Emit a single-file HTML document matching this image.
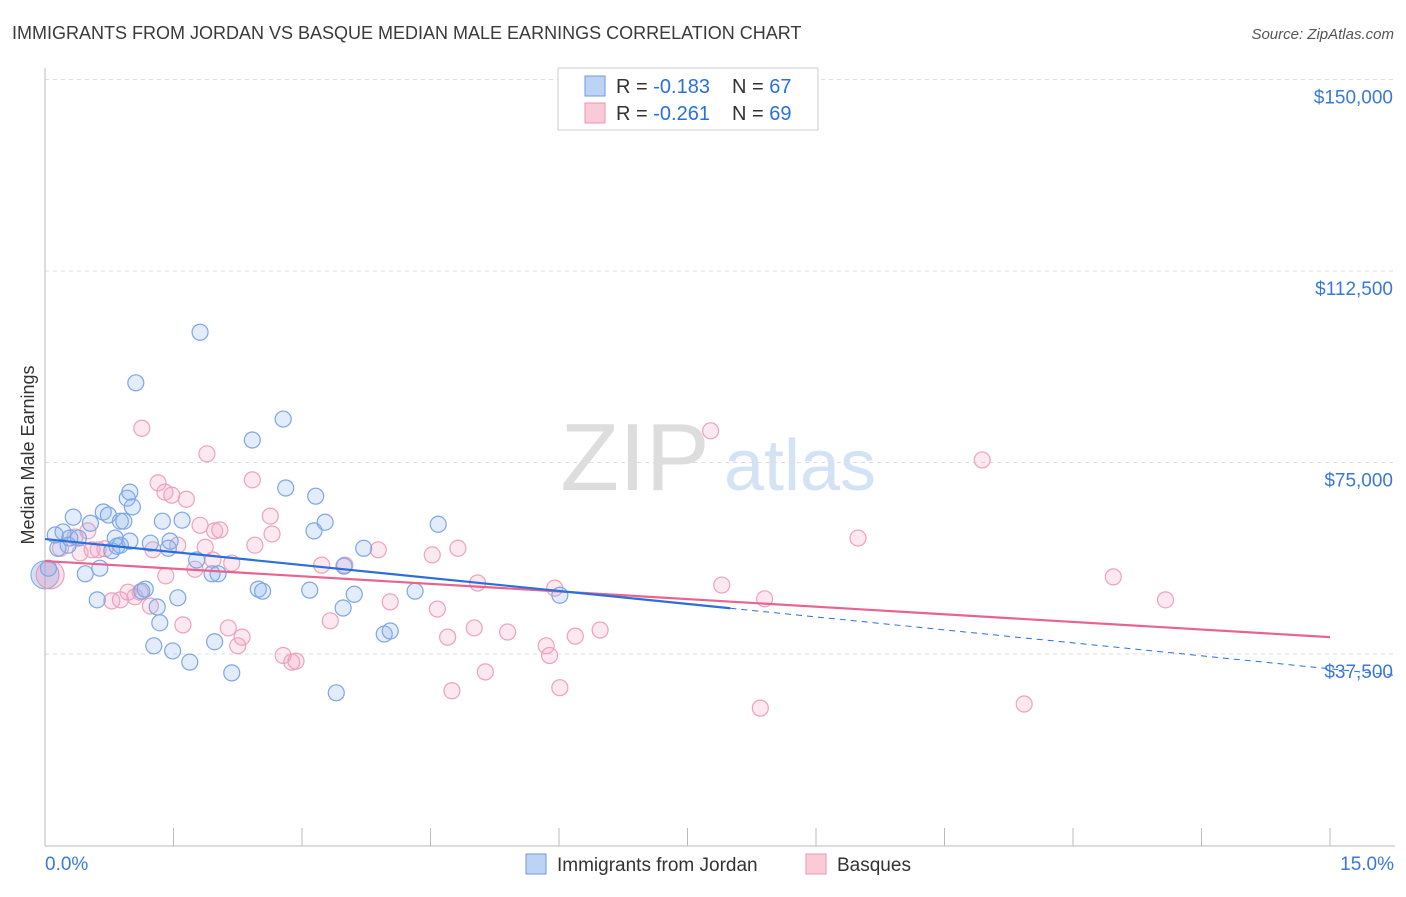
<!DOCTYPE html>
<html><head><meta charset="utf-8"><style>
body{margin:0;background:#fff;font-family:"Liberation Sans",sans-serif}
svg text{font-family:"Liberation Sans",sans-serif}
</style></head><body>
<svg id="chart" width="1406" height="892" viewBox="0 0 1406 892" xmlns="http://www.w3.org/2000/svg">
<text x="12" y="39" font-size="18" fill="#3a3a3a">IMMIGRANTS FROM JORDAN VS BASQUE MEDIAN MALE EARNINGS CORRELATION CHART</text>
<text x="1394" y="39" font-size="15" fill="#555" font-style="italic" text-anchor="end">Source: ZipAtlas.com</text>
<text x="0" y="0" transform="translate(34,455) rotate(-90)" font-size="18" fill="#333" text-anchor="middle">Median Male Earnings</text>
<g><text x="635" y="490" font-size="96" fill="#ddd" font-family="Liberation Serif" text-anchor="middle">ZIP</text><text x="800" y="490" font-size="72" fill="#d4e2f5" text-anchor="middle">atlas</text></g>
<g id="grid"></g><g id="axes"></g><g id="marks"></g>
<g>
<rect x="558" y="68" width="260" height="62" fill="#fff" stroke="#ccc"/>
<rect x="585" y="76" width="20" height="20" fill="#bcd3f5" stroke="#6e9be0"/>
<rect x="585" y="103" width="20" height="20" fill="#f9cbd9" stroke="#ea94b0"/>
<text x="616" y="93" font-size="20" fill="#333">R = <tspan fill="#2a6fdb">-0.183</tspan></text>
<text x="732" y="93" font-size="20" fill="#333">N = <tspan fill="#2a6fdb">67</tspan></text>
<text x="616" y="120" font-size="20" fill="#333">R = <tspan fill="#2a6fdb">-0.261</tspan></text>
<text x="732" y="120" font-size="20" fill="#333">N = <tspan fill="#2a6fdb">69</tspan></text>
</g>
<g>
<rect x="526" y="854" width="20" height="20" fill="#bcd3f5" stroke="#6e9be0"/>
<text x="557" y="871" font-size="19" fill="#333">Immigrants from Jordan</text>
<rect x="806" y="854" width="20" height="20" fill="#f9cbd9" stroke="#ea94b0"/>
<text x="837" y="871" font-size="19" fill="#333">Basques</text>
</g>
</svg>
<script>
const xTicksLabels=["0.0%","15.0%"];
const yTicks=[37500,75000,112500,150000];
const yTickLabels=["$37,500","$75,000","$112,500","$150,000"];
const blueX=[0.12,0.21,0.29,0.33,0.39,0.27,0.15,0.47,0.53,0.61,0.64,0.68,0.74,0.78,0.84,0.88,0.92,0.96,0.99,1.02,0.82,0.88,1.13,1.17,1.23,1.27,1.31,1.34,1.37,1.44,1.46,1.49,1.55,1.60,1.69,1.77,1.81,1.95,1.98,2.02,2.18,2.42,2.49,2.54,2.78,2.81,3.09,3.14,3.16,3.27,3.40,3.48,3.49,3.61,3.72,3.96,4.03,4.32,4.59,6.01,1.06,0.99,0.04];
const blueY=[60.8,61.4,60.2,64.3,60.2,58.8,58.2,53.2,63.1,48.1,54.3,65.3,64.7,57.7,58.6,63.5,63.5,68.0,69.2,66.3,60.2,58.8,49.8,50.2,59.2,39.1,46.7,43.6,63.5,58.2,59.6,38.1,48.5,63.7,35.9,55.9,100.5,53.2,39.9,53.2,33.8,79.4,50.2,49.8,83.5,70.0,50.0,61.6,68.4,63.3,29.9,46.5,54.7,49.2,58.2,41.4,42.0,49.8,62.9,49.0,90.6,59.6,54.3];
const pinkX=[0.18,0.35,0.41,0.50,0.55,0.62,0.70,0.78,0.88,0.97,1.05,1.11,1.13,1.23,1.26,1.32,1.41,1.48,1.55,1.61,1.65,1.75,1.81,1.87,1.89,1.98,2.04,2.14,2.18,2.25,2.30,2.42,2.45,2.63,2.65,2.78,2.88,2.93,3.23,3.33,3.50,3.89,4.03,4.52,4.58,4.70,4.75,4.82,5.01,5.05,5.14,5.40,5.85,5.89,5.95,6.01,6.19,6.48,7.77,7.90,8.35,8.40,9.49,10.94,11.43,12.47,13.08,1.96,1.40];
const pinkY=[58.2,60.4,57.3,61.6,57.9,57.9,58.1,47.9,48.1,49.6,48.7,49.6,81.7,46.9,57.9,71.0,52.8,68.6,58.8,43.2,67.8,54.1,62.7,58.4,76.7,61.6,61.8,42.6,55.3,39.1,40.8,71.6,58.8,64.5,61.0,37.2,35.9,36.1,54.9,44.0,54.9,57.9,47.7,56.9,46.3,40.8,30.3,58.2,42.6,51.4,34.0,41.8,39.1,37.2,50.4,30.9,41.0,42.2,81.2,51.0,26.9,48.3,60.2,75.5,27.7,52.6,48.1,55.9,69.2];
const bigX=[0.0,0.06];const bigY=[53.0,53.0];
const blueTrend=[60.0,34.6];const blueSolidEnd=8.0;
const pinkTrend=[55.7,40.8];
const NS="http://www.w3.org/2000/svg";
const X=v=>45+v*85.667;
const Y=v=>845.5-v*5.107;
function mk(tag,attrs,parent){const e=document.createElementNS(NS,tag);for(const k in attrs)e.setAttribute(k,attrs[k]);parent.appendChild(e);return e;}
const grid=document.getElementById('grid'),axes=document.getElementById('axes'),marks=document.getElementById('marks');
yTicks.forEach((t,i)=>{
 const l=mk('line',{x1:45,x2:1395,y1:Y(t/1000),y2:Y(t/1000),stroke:'#ddd','stroke-dasharray':'4,4'},grid);
 
 
 const tx=mk('text',{x:1393,y:Y(t/1000)+24,'font-size':19,fill:'#3a78d8','text-anchor':'end'},axes);
 tx.textContent=yTickLabels[i];
 
 
});
const ya=mk('line',{x1:45,x2:45,y1:68,y2:846,stroke:'#bbb'},axes);


const xa=mk('line',{x1:45,x2:1395,y1:846,y2:846,stroke:'#bbb'},axes);


for(let i=0;i<=10;i++){const tk=mk('line',{x1:X(i*1.5),x2:X(i*1.5),y1:828,y2:846,stroke:'#bbb'},axes);
 
 }
const xl0=mk('text',{x:45,y:870,'font-size':19,fill:'#3a78d8'},axes);xl0.textContent=xTicksLabels[0];


const xl1=mk('text',{x:1394,y:870,'font-size':19,fill:'#3a78d8','text-anchor':'end'},axes);xl1.textContent=xTicksLabels[1];


bigX.forEach((x,i)=>{const c=mk('circle',{cx:X(x),cy:Y(bigY[i]),r:14,fill:i?'rgba(240,150,180,0.3)':'rgba(110,150,225,0.3)',stroke:i?'#ea94b0':'#7ea6e4'},marks);
 
 });
pinkX.forEach((x,i)=>{const c=mk('circle',{cx:X(x),cy:Y(pinkY[i]),r:8,fill:'rgba(245,165,195,0.25)',stroke:'#eda2ba','stroke-width':1.2},marks);
 
 });
blueX.forEach((x,i)=>{const c=mk('circle',{cx:X(x),cy:Y(blueY[i]),r:8,fill:'rgba(140,178,238,0.25)',stroke:'#7ea6e4','stroke-width':1.2},marks);
 
 });
const bAt=x=>blueTrend[0]+(blueTrend[1]-blueTrend[0])*x/15;
const pl=mk('line',{x1:X(0),y1:Y(pinkTrend[0]),x2:X(15),y2:Y(pinkTrend[1]),stroke:'#e8648f','stroke-width':2.2},marks);


const bl=mk('line',{x1:X(0),y1:Y(bAt(0)),x2:X(blueSolidEnd),y2:Y(bAt(blueSolidEnd)),stroke:'#2a6fdb','stroke-width':2.2},marks);


const bd=mk('line',{x1:X(blueSolidEnd),y1:Y(bAt(blueSolidEnd)),x2:X(15.75),y2:Y(bAt(15.75)),stroke:'#2a6fdb','stroke-width':1,'stroke-dasharray':'6,5'},marks);


</script>
</body></html>
